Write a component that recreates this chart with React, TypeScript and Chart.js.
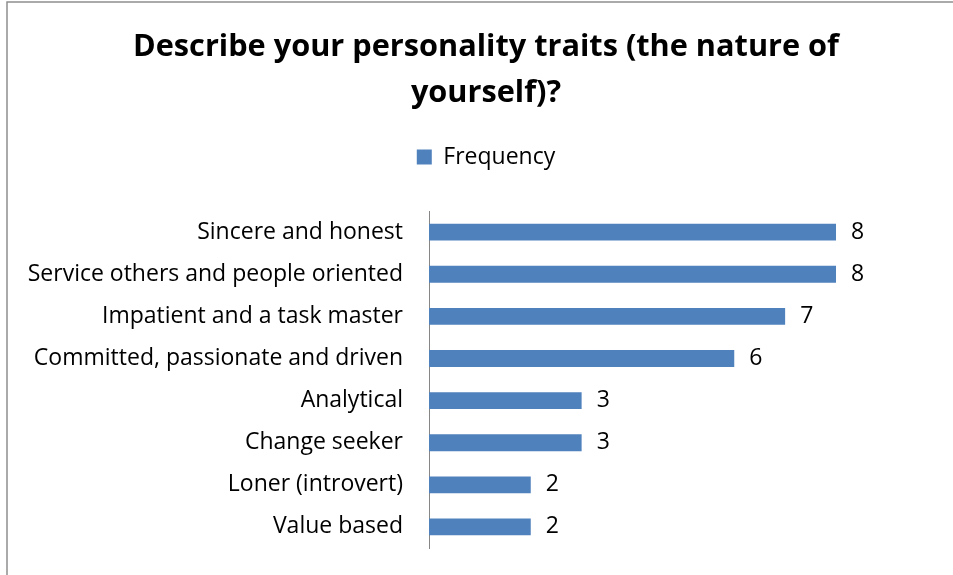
import React, { useEffect, useRef } from "react";
import { Chart, registerables } from "chart.js";

Chart.register(...registerables);

const titleLines = ["Describe your personality traits (the nature of", "yourself)?"];
const seriesName = "Frequency";
const categories = [
  "Sincere and honest",
  "Service others and people oriented",
  "Impatient and a task master",
  "Committed, passionate and driven",
  "Analytical",
  "Change seeker",
  "Loner (introvert)",
  "Value based",
];
const frequency = [8, 8, 7, 6, 3, 3, 2, 2];

const FONT = "'Open Sans', Lato, sans-serif";
const BAR_COLOR = "#4F81BD";

const frameLines = {
  id: "frameLines",
  beforeDraw(chart: any) {
    const ctx = chart.ctx;
    ctx.save();
    ctx.fillStyle = "#ffffff";
    ctx.fillRect(0, 0, chart.width, chart.height);
    ctx.strokeStyle = "#8e8e8e";
    ctx.lineWidth = 1.5;
    ctx.beginPath();
    ctx.moveTo(7, chart.height);
    ctx.lineTo(7, 2);
    ctx.lineTo(chart.width, 2);
    ctx.stroke();
    ctx.restore();
  },
};

const valueLabels = {
  id: "valueLabels",
  afterDatasetsDraw(chart: any) {
    const ctx = chart.ctx;
    const meta = chart.getDatasetMeta(0);
    const data = chart.data.datasets[0].data;
    ctx.save();
    ctx.font = `23px ${FONT}`;
    ctx.fillStyle = "#000000";
    ctx.textAlign = "left";
    ctx.textBaseline = "middle";
    meta.data.forEach((bar: any, i: number) => {
      ctx.fillText(String(data[i]), bar.x + 15, bar.y);
    });
    ctx.restore();
  },
};

export default function App() {
  const canvasRef = useRef<HTMLCanvasElement | null>(null);

  useEffect(() => {
    if (!canvasRef.current) return;
    const chart = new Chart(canvasRef.current, {
      type: "bar",
      data: {
        labels: categories,
        datasets: [
          {
            label: seriesName,
            data: frequency,
            backgroundColor: BAR_COLOR,
            borderWidth: 0,
            barPercentage: 0.4,
            categoryPercentage: 1,
          },
        ],
      },
      options: {
        indexAxis: "y",
        responsive: false,
        animation: false,
        devicePixelRatio: 1,
        layout: { padding: { top: 0, left: 0, right: 0, bottom: 27 } },
        scales: {
          x: {
            type: "linear",
            position: "top",
            min: 0,
            max: 10.673,
            ticks: { display: false },
            grid: { display: false, drawTicks: false },
            border: { display: false },
            afterFit: (s: any) => {
              s.height = 32.5;
              s.paddingLeft = 0;
              s.paddingRight = 0;
            },
          },
          y: {
            type: "category",
            grid: { display: false, drawTicks: false },
            border: { display: true, color: "#868686", width: 1 },
            ticks: {
              color: "#000000",
              padding: 26,
              font: { family: FONT, size: 23 },
            },
            afterFit: (s: any) => {
              s.width = 429;
              s.paddingTop = 0;
              s.paddingBottom = 0;
            },
          },
        },
        plugins: {
          title: {
            display: true,
            text: titleLines,
            color: "#000000",
            font: { family: FONT, size: 30.7, weight: "bold", lineHeight: 1.5 },
            padding: { top: 24, bottom: 24 },
          },
          legend: {
            display: true,
            position: "top",
            labels: {
              color: "#000000",
              boxWidth: 15,
              boxHeight: 15,
              padding: 5.5,
              font: { family: FONT, size: 23 },
            },
          },
          tooltip: { enabled: false },
        },
      },
      plugins: [frameLines, valueLabels],
    });
    return () => chart.destroy();
  }, []);

  return (
    <div
      style={{
        position: "fixed",
        left: 0,
        top: 0,
        width: 953,
        height: 575,
        overflow: "hidden",
        background: "#ffffff",
      }}
    >
      <canvas ref={canvasRef} width={972} height={575} style={{ display: "block" }} />
    </div>
  );
}
